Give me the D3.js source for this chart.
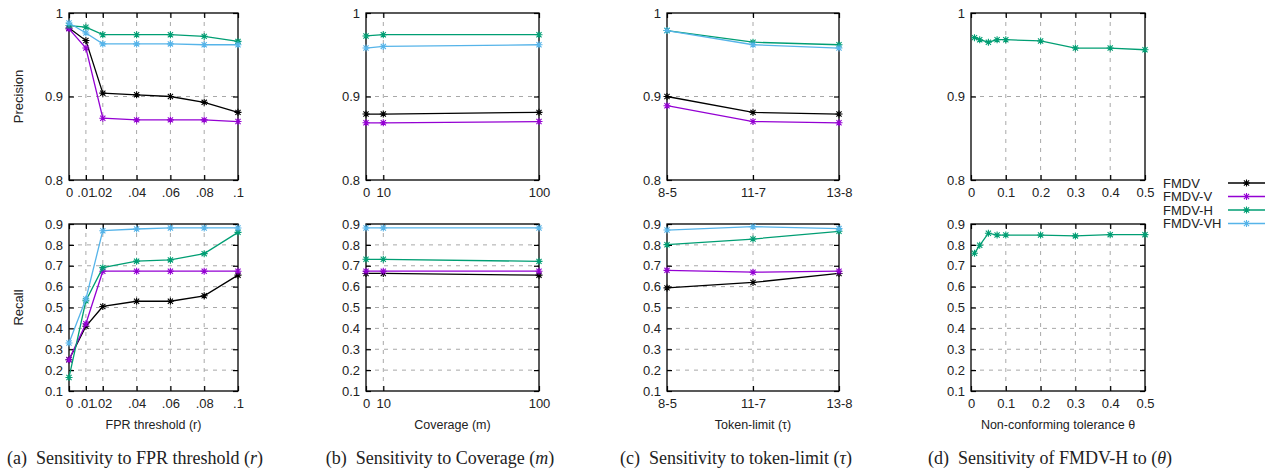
<!DOCTYPE html>
<html lang="en">
<head>
    <meta charset="UTF-8">
    <title>FMDV sensitivity</title>
    <script src="https://d3js.org/d3.v7.min.js"></script>
    <style>
        body {
            margin: 0;
            background: #fff;
        }
        svg text {
            font-family: "Liberation Sans", Arial, sans-serif;
            fill: #222;
        }
        .tick text {
            font-size: 13px;
        }
        .grid {
            stroke: #a8a8a8;
            stroke-width: 1;
            stroke-dasharray: 4, 5;
        }
        .caption {
            font-family: "Liberation Serif", "Times New Roman", serif !important;
            font-size: 18px;
            white-space: pre;
        }
    </style>
</head>
<body>
    <svg id="chart" width="1274" height="472"></svg>

    <script>
        // series order: FMDV, FMDV-V, FMDV-H, FMDV-VH
        const seriesNames = ["FMDV", "FMDV-V", "FMDV-H", "FMDV-VH"];
        const seriesColors = ["#000000", "#9400d3", "#009e73", "#56b4e9"];

        // (a) FPR threshold
        const fprValues = [0, 0.01, 0.02, 0.04, 0.06, 0.08, 0.1];
        const fprTickLabels = ["0", ".01", ".02", ".04", ".06", ".08", ".1"];
        const fprPrecision = [
            [0.982, 0.967, 0.904, 0.902, 0.900, 0.893, 0.881],
            [0.981, 0.958, 0.874, 0.872, 0.872, 0.872, 0.870],
            [0.985, 0.983, 0.974, 0.974, 0.974, 0.972, 0.966],
            [0.988, 0.976, 0.963, 0.963, 0.963, 0.962, 0.962]
        ];
        const fprRecall = [
            [0.25, 0.41, 0.505, 0.53, 0.53, 0.556, 0.655],
            [0.25, 0.422, 0.674, 0.674, 0.674, 0.674, 0.674],
            [0.165, 0.532, 0.691, 0.722, 0.728, 0.758, 0.86],
            [0.33, 0.541, 0.868, 0.876, 0.881, 0.881, 0.881]
        ];

        // (b) coverage
        const coverageValues = [0, 10, 100];
        const coveragePrecision = [
            [0.879, 0.879, 0.881],
            [0.8685, 0.8685, 0.870],
            [0.9725, 0.974, 0.974],
            [0.958, 0.960, 0.962]
        ];
        const coverageRecall = [
            [0.663, 0.663, 0.655],
            [0.674, 0.674, 0.674],
            [0.731, 0.731, 0.721],
            [0.881, 0.881, 0.881]
        ];

        // (c) token-limit
        const tokenLimits = ["8-5", "11-7", "13-8"];
        const tokenPrecision = [
            [0.900, 0.881, 0.879],
            [0.889, 0.870, 0.8685],
            [0.979, 0.965, 0.962],
            [0.979, 0.962, 0.958]
        ];
        const tokenRecall = [
            [0.594, 0.620, 0.663],
            [0.678, 0.669, 0.674],
            [0.801, 0.828, 0.865],
            [0.871, 0.887, 0.878]
        ];

        // (d) tolerance, FMDV-H only
        const thetaValues = [0.01, 0.025, 0.05, 0.075, 0.1, 0.2, 0.3, 0.4, 0.5];
        const thetaTicks = [0, 0.1, 0.2, 0.3, 0.4, 0.5];
        const thetaPrecision = [0.9705, 0.968, 0.965, 0.968, 0.968, 0.9665, 0.958, 0.958, 0.956];
        const thetaRecall = [0.760, 0.798, 0.856, 0.847, 0.847, 0.847, 0.843, 0.849, 0.849];

        const precisionTicks = [0.8, 0.9, 1];
        const recallTicks = [0.1, 0.2, 0.3, 0.4, 0.5, 0.6, 0.7, 0.8, 0.9];

        const svg = d3.select("#chart");

        const rows = [
            {top: 13, bottom: 180, domain: [0.8, 1], ticks: precisionTicks, label: "Precision"},
            {top: 224, bottom: 391, domain: [0.1, 0.9], ticks: recallTicks, label: "Recall"}
        ];

        const starPath = "M-3.5,0H3.5M0,-3.5V3.5M-2.6,-2.6L2.6,2.6M-2.6,2.6L2.6,-2.6";

        const panels = [
            {
                left: 69, right: 238,
                x: r => d3.scaleLinear().domain([0, 0.1]).range(r),
                xTicks: fprValues,
                xFmt: (d, i) => fprTickLabels[i],
                xs: fprValues,
                data: [fprPrecision, fprRecall],
                title: "FPR threshold (r)",
                caption: [["(a)  Sensitivity to FPR threshold (", ""], ["r", "italic"], [")", ""]],
                capX: 135
            },
            {
                left: 366, right: 539,
                x: r => d3.scaleLinear().domain([0, 100]).range(r),
                xTicks: coverageValues,
                xFmt: d => d,
                xs: coverageValues,
                data: [coveragePrecision, coverageRecall],
                title: "Coverage (m)",
                caption: [["(b)  Sensitivity to Coverage (", ""], ["m", "italic"], [")", ""]],
                capX: 440
            },
            {
                left: 667, right: 839,
                x: r => d3.scalePoint().domain(tokenLimits).range(r),
                xTicks: tokenLimits,
                xFmt: d => d,
                xs: tokenLimits,
                data: [tokenPrecision, tokenRecall],
                title: "Token-limit (\u03c4)",
                caption: [["(c)  Sensitivity to token-limit (", ""], ["\u03c4", "italic"], [")", ""]],
                capX: 736
            },
            {
                left: 971, right: 1145,
                x: r => d3.scaleLinear().domain([0, 0.5]).range(r),
                xTicks: thetaTicks,
                xFmt: d => d === 0 ? "0" : d3.format(".1f")(d),
                xs: thetaValues,
                // only FMDV-H, keep index 2 for colour
                data: [[null, null, thetaPrecision, null], [null, null, thetaRecall, null]],
                title: "Non-conforming tolerance \u03b8",
                caption: [["(d)  Sensitivity of FMDV-H to (", ""], ["\u03b8", "italic"], [")", ""]],
                capX: 1050
            }
        ];

        panels.forEach((p, pi) => {
            const x = p.x([p.left, p.right]);

            rows.forEach((row, ri) => {
                const y = d3.scaleLinear().domain(row.domain).range([row.bottom, row.top]);
                const g = svg.append("g");

                // grid
                p.xTicks.forEach(t => {
                    const px = x(t);
                    if (px > p.left + 1 && px < p.right - 1) {
                        g.append("line").attr("class", "grid")
                            .attr("x1", px).attr("x2", px)
                            .attr("y1", row.top).attr("y2", row.bottom);
                    }
                });
                row.ticks.forEach(t => {
                    const py = y(t);
                    if (py > row.top + 1 && py < row.bottom - 1) {
                        g.append("line").attr("class", "grid")
                            .attr("x1", p.left).attr("x2", p.right)
                            .attr("y1", py).attr("y2", py);
                    }
                });

                // axes, ticks pointing inward
                const yFmt = d => d === 1 ? "1" : d3.format(".1f")(d);
                g.append("g")
                    .attr("transform", `translate(0,${row.bottom})`)
                    .call(d3.axisBottom(x).tickValues(p.xTicks).tickFormat(p.xFmt)
                        .tickSizeInner(-5).tickSizeOuter(0).tickPadding(8))
                    .call(a => a.select(".domain").remove());
                g.append("g")
                    .attr("transform", `translate(0,${row.top})`)
                    .call(d3.axisTop(x).tickValues(p.xTicks).tickFormat("")
                        .tickSizeInner(-5).tickSizeOuter(0))
                    .call(a => a.select(".domain").remove());
                g.append("g")
                    .attr("transform", `translate(${p.left},0)`)
                    .call(d3.axisLeft(y).tickValues(row.ticks).tickFormat(yFmt)
                        .tickSizeInner(-5).tickSizeOuter(0).tickPadding(6))
                    .call(a => a.select(".domain").remove());
                g.append("g")
                    .attr("transform", `translate(${p.right},0)`)
                    .call(d3.axisRight(y).tickValues(row.ticks).tickFormat("")
                        .tickSizeInner(-5).tickSizeOuter(0))
                    .call(a => a.select(".domain").remove());

                g.selectAll(".tick line").attr("stroke", "#000").attr("stroke-width", 1.2);

                // border
                g.append("rect")
                    .attr("x", p.left).attr("y", row.top)
                    .attr("width", p.right - p.left).attr("height", row.bottom - row.top)
                    .attr("fill", "none").attr("stroke", "#000").attr("stroke-width", 1.3);

                // series
                const line = d3.line().x(d => x(d[0])).y(d => y(d[1]));
                p.data[ri].forEach((vals, si) => {
                    if (!vals) return;
                    const pts = vals.map((v, i) => [p.xs[i], v]);
                    g.append("path")
                        .datum(pts)
                        .attr("d", line)
                        .attr("fill", "none")
                        .attr("stroke", seriesColors[si])
                        .attr("stroke-width", 1.3);
                    g.selectAll(null)
                        .data(pts)
                        .enter()
                        .append("path")
                        .attr("d", starPath)
                        .attr("transform", d => `translate(${x(d[0])},${y(d[1])})`)
                        .attr("fill", "none")
                        .attr("stroke", seriesColors[si])
                        .attr("stroke-width", 1.1);
                });

                // y label, first column only
                if (pi === 0) {
                    svg.append("text")
                        .attr("transform", `translate(18,${(row.top + row.bottom) / 2}) rotate(-90)`)
                        .attr("text-anchor", "middle")
                        .attr("dominant-baseline", "central")
                        .style("font-size", "13px")
                        .text(row.label);
                }
            });

            // x title
            svg.append("text")
                .attr("x", (p.left + p.right) / 2)
                .attr("y", 429)
                .attr("text-anchor", "middle")
                .style("font-size", "12.5px")
                .text(p.title);

            // caption
            const cap = svg.append("text")
                .attr("class", "caption")
                .attr("x", p.capX)
                .attr("y", 464)
                .attr("text-anchor", "middle");
            p.caption.forEach(([t, st]) => {
                cap.append("tspan").style("font-style", st || "normal").text(t);
            });
        });

        // legend
        const legend = svg.append("g");
        seriesNames.forEach((name, i) => {
            const ly = 183 + i * 13.5;
            legend.append("text")
                .attr("x", 1163).attr("y", ly)
                .attr("dominant-baseline", "central")
                .style("font-size", "13px")
                .text(name);
            legend.append("line")
                .attr("x1", 1228).attr("x2", 1265)
                .attr("y1", ly).attr("y2", ly)
                .attr("stroke", seriesColors[i]).attr("stroke-width", 1.3);
            legend.append("path")
                .attr("d", starPath)
                .attr("transform", `translate(1246.5,${ly})`)
                .attr("fill", "none")
                .attr("stroke", seriesColors[i]).attr("stroke-width", 1.1);
        });
    </script>
</body>
</html>
